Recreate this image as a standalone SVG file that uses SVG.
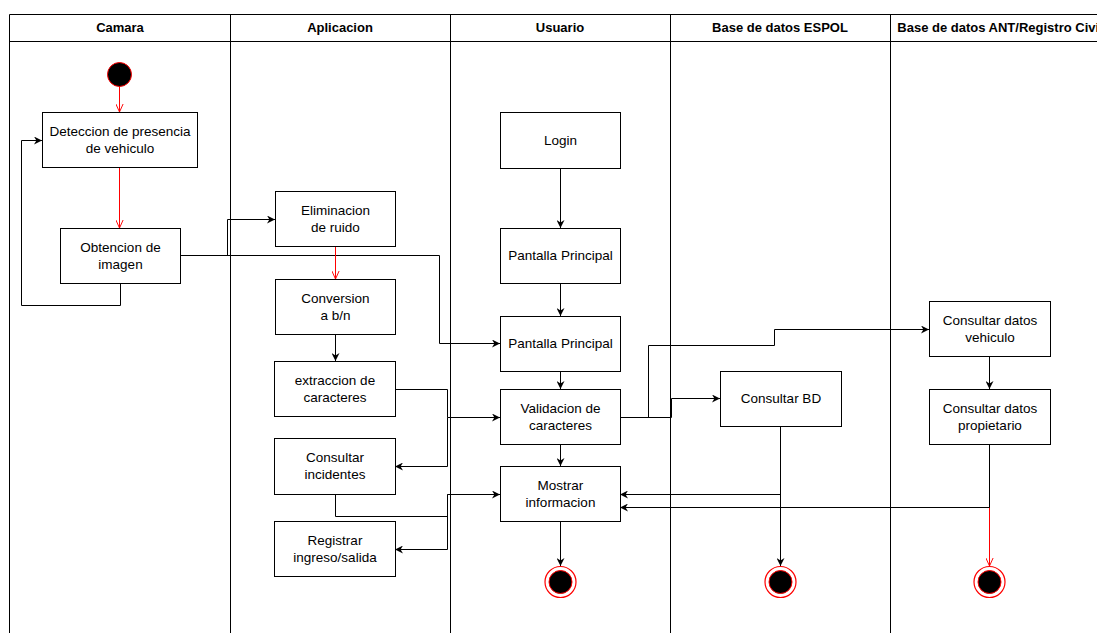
<svg xmlns="http://www.w3.org/2000/svg" width="1097" height="633" viewBox="0 0 1097 633">
<style>
.lane{fill:none;stroke:#000;stroke-width:1}
.hdr{font-family:"Liberation Sans",Arial,sans-serif;font-size:13px;font-weight:bold;fill:#000;text-anchor:middle}
.box{fill:#fff;stroke:#000;stroke-width:1}
.lbl{font-family:"Liberation Sans",Arial,sans-serif;font-size:13.5px;fill:#000;text-anchor:middle}
.e{fill:none;stroke:#000;stroke-width:1;marker-end:url(#arr)}
.r{fill:none;stroke:#ff0000;stroke-width:1;marker-end:url(#open)}
</style>
<defs>
<marker id="arr" viewBox="0 0 10 10" refX="10" refY="5" markerWidth="8" markerHeight="8" markerUnits="userSpaceOnUse" orient="auto">
<path d="M0,0 L10,5 L0,10 L3,5 z" fill="#000"/>
</marker>
<marker id="open" viewBox="0 0 10 10" refX="10" refY="5" markerWidth="8" markerHeight="8" markerUnits="userSpaceOnUse" orient="auto">
<path d="M0,0.5 L10,5 L0,9.5" fill="none" stroke="#ff0000" stroke-width="1.2"/>
</marker>
</defs>
<rect width="1097" height="633" fill="#fff"/>
<g id="pool">
<path class="lane" d="M9.5,14.5 H1110 M9.5,41.5 H1110 M9.5,14.5 V633 M230.5,14.5 V633 M450.5,14.5 V633 M670.5,14.5 V633 M890.5,14.5 V633"/>
<text class="hdr" x="120" y="32">Camara</text>
<text class="hdr" x="340" y="32">Aplicacion</text>
<text class="hdr" x="560" y="32">Usuario</text>
<text class="hdr" x="780" y="32">Base de datos ESPOL</text>
<text class="hdr" x="1000" y="32">Base de datos ANT/Registro Civil</text>
</g>
<g id="connectors">
<path class="r" d="M119.5,86 V112"/>
<path class="r" d="M119.5,167 V228"/>
<path class="e" d="M120.5,283 V305.5 H21.5 V140.5 H42"/>
<path class="e" d="M180,255.5 H227.5 V219.5 H275"/>
<path class="e" d="M180,255.5 H439.5 V343.5 H500"/>
<path class="r" d="M335.5,246 V279"/>
<path class="e" d="M335.5,334 V361"/>
<path class="e" d="M395,389.5 H447.5 V417.5 H500"/>
<path class="e" d="M447.5,417.5 V466.5 H395"/>
<path class="e" d="M335.5,494 V516.5 H447.5 V494.5 H500"/>
<path class="e" d="M447.5,494.5 V549.5 H395"/>
<path class="e" d="M560.5,168 V228"/>
<path class="e" d="M560.5,283 V316"/>
<path class="e" d="M560.5,371 V389"/>
<path class="e" d="M560.5,444 V466"/>
<path class="e" d="M560.5,521 V566"/>
<path class="e" d="M620,417.5 H648.5 V345.5 H774.5 V329.5 H929"/>
<path class="e" d="M620,417.5 H671.5 V398.5 H720"/>
<path class="e" d="M780.5,426 V494.5 H620"/>
<path class="e" d="M780.5,426 V566"/>
<path class="e" d="M989.5,356 V389"/>
<path class="r" d="M989.5,444 V566"/>
<path class="e" d="M989.5,444 V507.5 H620"/>
</g>
<g id="start"><circle cx="119.5" cy="74.5" r="12" fill="#000" stroke="#ff0000" stroke-width="1"/></g>
<g id="deteccion"><rect class="box" x="42.5" y="112.5" width="155" height="55"/><text class="lbl" x="120" y="136">Deteccion de presencia</text><text class="lbl" x="120" y="153">de vehiculo</text></g>
<g id="obtencion"><rect class="box" x="60.5" y="228.5" width="120" height="55"/><text class="lbl" x="120.5" y="252">Obtencion de</text><text class="lbl" x="120.5" y="269">imagen</text></g>
<g id="eliminacion"><rect class="box" x="275.5" y="191.5" width="120" height="55"/><text class="lbl" x="335.5" y="215">Eliminacion</text><text class="lbl" x="335.5" y="232">de ruido</text></g>
<g id="conversion"><rect class="box" x="275.5" y="279.5" width="120" height="55"/><text class="lbl" x="335.5" y="303">Conversion</text><text class="lbl" x="335.5" y="320">a b/n</text></g>
<g id="extraccion"><rect class="box" x="274.5" y="361.5" width="121" height="55"/><text class="lbl" x="335" y="385">extraccion de</text><text class="lbl" x="335" y="402">caracteres</text></g>
<g id="incidentes"><rect class="box" x="274.5" y="438.5" width="121" height="56"/><text class="lbl" x="335" y="462">Consultar</text><text class="lbl" x="335" y="479">incidentes</text></g>
<g id="registrar"><rect class="box" x="274.5" y="521.5" width="121" height="55"/><text class="lbl" x="335" y="545">Registrar</text><text class="lbl" x="335" y="562">ingreso/salida</text></g>
<g id="login"><rect class="box" x="500.5" y="112.5" width="120" height="56"/><text class="lbl" x="560.5" y="145">Login</text></g>
<g id="pantalla1"><rect class="box" x="500.5" y="228.5" width="120" height="55"/><text class="lbl" x="560.5" y="260">Pantalla Principal</text></g>
<g id="pantalla2"><rect class="box" x="500.5" y="316.5" width="120" height="55"/><text class="lbl" x="560.5" y="348">Pantalla Principal</text></g>
<g id="validacion"><rect class="box" x="500.5" y="389.5" width="120" height="55"/><text class="lbl" x="560.5" y="413">Validacion de</text><text class="lbl" x="560.5" y="430">caracteres</text></g>
<g id="mostrar"><rect class="box" x="500.5" y="466.5" width="120" height="55"/><text class="lbl" x="560.5" y="490">Mostrar</text><text class="lbl" x="560.5" y="507">informacion</text></g>
<g id="consultarbd"><rect class="box" x="720.5" y="371.5" width="121" height="55"/><text class="lbl" x="781" y="403">Consultar BD</text></g>
<g id="vehiculo"><rect class="box" x="929.5" y="301.5" width="121" height="55"/><text class="lbl" x="990" y="325">Consultar datos</text><text class="lbl" x="990" y="342">vehiculo</text></g>
<g id="propietario"><rect class="box" x="929.5" y="389.5" width="121" height="55"/><text class="lbl" x="990" y="413">Consultar datos</text><text class="lbl" x="990" y="430">propietario</text></g>
<g id="end1"><circle cx="560.5" cy="582" r="15.5" fill="#fff" stroke="#ff0000" stroke-width="1.2"/><circle cx="560.5" cy="582" r="11.5" fill="#000" stroke="#ff0000" stroke-width="1"/></g>
<g id="end2"><circle cx="780.5" cy="582" r="15.5" fill="#fff" stroke="#ff0000" stroke-width="1.2"/><circle cx="780.5" cy="582" r="11.5" fill="#000" stroke="#ff0000" stroke-width="1"/></g>
<g id="end3"><circle cx="989.5" cy="582" r="15.5" fill="#fff" stroke="#ff0000" stroke-width="1.2"/><circle cx="989.5" cy="582" r="11.5" fill="#000" stroke="#ff0000" stroke-width="1"/></g>
</svg>
